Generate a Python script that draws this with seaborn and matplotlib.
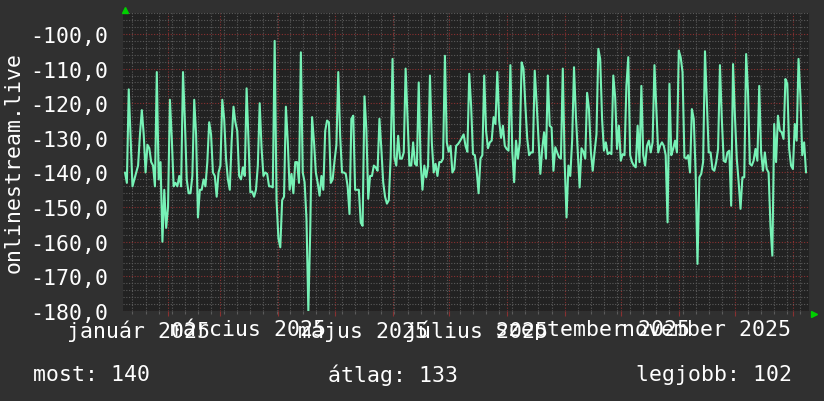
import matplotlib
matplotlib.use("Agg")
import numpy as np
import pandas as pd
import matplotlib.pyplot as plt
import matplotlib.dates as mdates
from matplotlib.ticker import MultipleLocator, FuncFormatter, NullFormatter
import seaborn as sns

# ---------------- data (daily rank, negated) ----------------
START = "2025-01-09"
seg_jan_mar = [-140, -143, -116, -130, -144, -142, -140, -138, -129, -122, -129, -140, -132, -133,
               -137, -138, -144, -111, -142, -137, -160, -145, -156, -150, -119, -130, -144, -143,
               -144, -141, -144, -111, -125, -142, -146, -146, -141, -119, -129, -153, -145, -145,
               -142, -144, -137, -125.5, -129, -140, -141, -147, -140, -138, -119, -124.5, -136,
               -142, -145, -131, -121, -125.5, -128, -141]
seg_mar_may = [-142, -138.5, -141, -115.7, -131, -145.7, -145.5, -147, -145, -138, -120, -133, -141,
               -140, -140.4, -144, -144, -144.3, -102, -148, -159, -161.6, -148, -147, -121, -131,
               -145, -140.4, -146, -137, -137, -143, -105.3, -140, -142.8, -153.4, -180, -157, -124,
               -131, -140, -143, -146.7, -141, -145, -128, -125, -125.5, -143, -142, -136.6, -132,
               -111, -129.4, -140, -140, -140.4, -144, -152, -124.5, -123.6]
seg_may_jul = [-145, -145, -145, -154.5, -155.4, -118, -127.4, -147.6, -141, -141, -138, -138.5,
               -139.5, -124.5, -133, -142.8, -147, -149, -148, -135.6, -107.2, -135.6, -138, -129.4,
               -136, -136, -134.2, -110, -123.6, -138, -138, -131.3, -137.5, -138, -114, -137, -145,
               -138, -141.4, -138, -112, -131.3, -140, -137.5, -141, -137, -137, -136, -106.3,
               -131.3, -134, -132.3, -140, -139, -132.3, -131.8, -131, -130, -129, -132.3, -134,
               -111.5]
seg_jul_sep = [-120.7, -134.7, -135, -139.5, -146, -136, -135, -112, -128, -133, -131.3, -130.8,
               -124, -126, -111, -125, -130, -126.5, -132.3, -133.2, -133.7, -109, -134, -142.8,
               -130.8, -136, -131.3, -108.2, -110, -120.7, -130.3, -135, -134.2, -134.2, -110.6,
               -119.7, -130.3, -140.4, -133.2, -128.4, -136, -112, -126.5, -127, -139.5, -132.7,
               -134.2, -135.6, -136, -110, -137, -153, -138, -141, -130.8, -109.6, -123.6, -134.2,
               -144.3, -133, -134, -136]
seg_sep_nov = [-117, -121.7, -134, -139.5, -134, -129, -104.3, -107.2, -124.5, -133.7, -131.3,
               -134.7, -134.2, -134.7, -112, -118.3, -133.2, -126.5, -136.6, -134.7, -135, -115,
               -106.7, -135, -137, -138, -138.5, -126.5, -137, -115, -135, -138, -132.3, -130.8,
               -134.2, -131.3, -109, -121.7, -134.2, -132.3, -131.3, -132.3, -135, -154.4, -114.4,
               -135, -133.2, -130.8, -134.2, -104.8, -106.7, -111, -135.6, -136, -135, -140,
               -121.7, -124.5]
seg_nov_jan = [-140, -166.4, -141.4, -140.4, -137, -105, -120, -134.2, -134.2, -139, -139.5, -137,
               -133.2, -109, -124.5, -136.6, -137, -134.2, -133.7, -149.6, -108.7, -123.6, -136,
               -142.8, -150.5, -141.4, -141.4, -105.8, -116.8, -137.5, -138, -136.6, -133.2, -136.6,
               -115, -134.2, -139.5, -134.2, -139, -140, -155.4, -164, -126, -137, -123.6, -127.9,
               -128.4, -130.3, -113, -114.4, -133.2, -138, -139, -126, -130.8, -107.2, -117.8, -135,
               -131.3, -140]

label_months = ["2025-01-01", "2025-03-01", "2025-05-01", "2025-07-01", "2025-09-01", "2025-11-01"]
month_labels = ["január 2025", "március 2025", "május 2025", "július 2025",
                "szeptember 2025", "november 2025"]
legend_texts = ["most: 140", "átlag: 133", "legjobb: 102"]
y_title = "onlinestream.live"

values = seg_jan_mar + seg_mar_may + seg_may_jul + seg_jul_sep + seg_sep_nov + seg_nov_jan
df = pd.DataFrame({"date": pd.date_range(START, periods=len(values), freq="D"),
                   "rank": values})

# ---------------- style ----------------
sns.set_theme(style="dark")
plt.rcParams["font.family"] = ["DejaVu Sans Mono", "DejaVu Sans"]
BG = "#303030"
PLOT = "#222222"
LINE = "#77f2b6"
MINOR = "#5a5a5a"
MAJOR = "#8a3030"
TXT = "#ffffff"
FS = 15.5

fig = plt.figure(figsize=(8.24, 4.02), dpi=100, facecolor=BG)
W, H = 824, 402
left, right, top, bottom = 123.5, 809, 13.5, 312
ax = fig.add_axes([left / W, 1 - bottom / H, (right - left) / W, (bottom - top) / H])
ax.set_facecolor(PLOT)

sns.lineplot(data=df, x="date", y="rank", ax=ax, color=LINE, linewidth=1.5)

base = pd.Timestamp("2025-01-01")
ax.set_xlim(base + pd.Timedelta(days=7.2), base + pd.Timedelta(days=373.6))
ax.set_ylim(-180, -93.8)

ax.xaxis.set_major_locator(mdates.MonthLocator())
ax.xaxis.set_minor_locator(mdates.WeekdayLocator(byweekday=mdates.MO))
ax.xaxis.set_major_formatter(NullFormatter())
ax.yaxis.set_major_locator(MultipleLocator(10))
ax.yaxis.set_minor_locator(MultipleLocator(2))
ax.yaxis.set_major_formatter(FuncFormatter(lambda v, p: f"{v:.1f}".replace(".", ",")))

ax.grid(which="minor", color=MINOR, linestyle=(0, (1, 1.5)), linewidth=0.8)
ax.grid(which="major", color=MAJOR, linestyle=(0, (1, 1.5)), linewidth=0.8)
ax.set_axisbelow(True)

ax.tick_params(axis="y", which="both", length=0, pad=11, labelcolor=TXT, labelsize=FS)
ax.tick_params(axis="x", which="major", direction="out", length=3.5, width=0.8, color=MAJOR,
               bottom=True)
ax.tick_params(axis="x", which="minor", direction="out", length=2, width=0.8, color=MINOR,
               bottom=True)
for s in ax.spines.values():
    s.set_visible(False)
ax.set_xlabel("")
ax.set_ylabel("")

# month labels centred 15 days after the month start
sec = ax.secondary_xaxis("bottom")
pos = [mdates.date2num(pd.Timestamp(m) + pd.Timedelta(days=15)) for m in label_months]
sec.set_xticks(pos, labels=month_labels)
sec.tick_params(length=0, pad=6, labelsize=FS, labelcolor=TXT)
for s in sec.spines.values():
    s.set_visible(False)

# axis arrows
ax.plot([125 / W], [1 - 10.5 / H], marker="^", ms=5, color="#00d000", mec="#00d000",
        transform=fig.transFigure, clip_on=False)
ax.plot([813.5 / W], [1 - 314.5 / H], marker=">", ms=5, color="#00d000", mec="#00d000",
        transform=fig.transFigure, clip_on=False)

fig.text(13.5 / W, 1 - 162.5 / H, y_title, rotation=90, ha="center", va="center",
         color=TXT, fontsize=FS)

fig.text(33 / W, 1 - 375 / H, legend_texts[0], ha="left", va="center", color=TXT, fontsize=FS)
fig.text(392.5 / W, 1 - 375 / H, legend_texts[1], ha="center", va="center", color=TXT, fontsize=FS)
fig.text(792 / W, 1 - 375 / H, legend_texts[2], ha="right", va="center", color=TXT, fontsize=FS)

fig.savefig("out.png", dpi=100, facecolor=BG)
